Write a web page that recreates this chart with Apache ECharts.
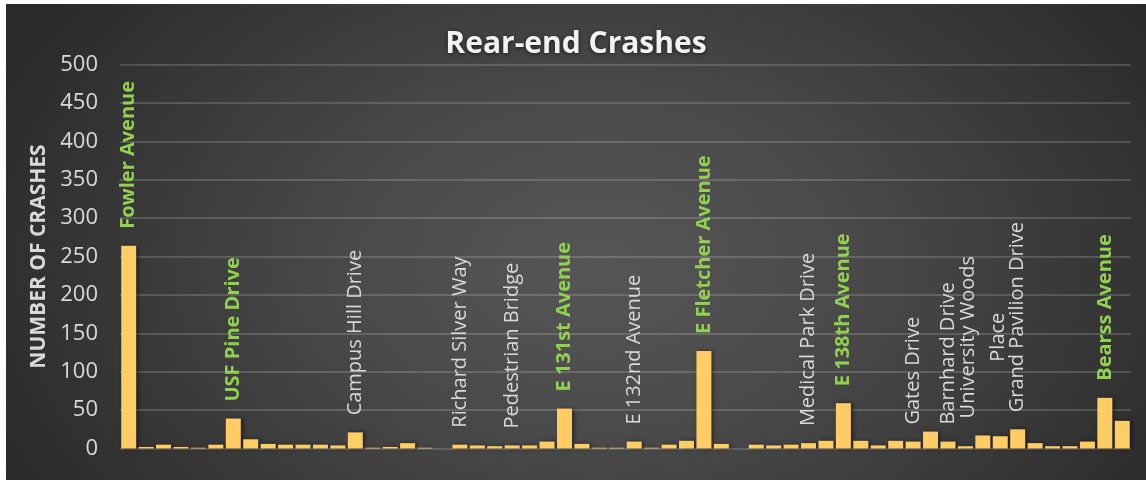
<!DOCTYPE html>
<html>
<head>
<meta charset="utf-8">
<script src="https://cdn.jsdelivr.net/npm/echarts@6/dist/echarts.min.js"></script>
<style>
  html, body { margin: 0; padding: 0; background: #fff; }
  #chart {
    position: absolute; left: 6px; top: 4px; width: 1140px; height: 476px;
    background: radial-gradient(ellipse 58% 95% at 52% 55%, #565656 0%, #4b4b4b 35%, #2a2a2a 100%);
  }
</style>
</head>
<body>
<div id="chart"></div>
<script>
'use strict'
// road segments, left to right; only the labelled ones carry a name
const roads = [
  'Fowler Avenue', '', '', '', '', '', 'USF Pine Drive', '', '', '',
  '', '', '', 'Campus Hill Drive', '', '', '', '', '', 'Richard Silver Way',
  '', '', 'Pedestrian Bridge', '', '', 'E 131st Avenue', '', '', '', 'E 132nd Avenue',
  '', '', '', 'E Fletcher Avenue', '', '', '', '', '', 'Medical Park Drive',
  '', 'E 138th Avenue', '', '', '', 'Gates Drive', '', 'Barnhard Drive', '', 'University Woods\nPlace',
  '', 'Grand Pavilion Drive', '', '', '', '', 'Bearss Avenue', ''
];
const crashes = [
  264, 2, 5, 2, 1, 5, 39, 12, 6, 5,
  5, 5, 4, 21, 1, 2, 7, 1, 0, 5,
  4, 3, 4, 4, 9, 52, 6, 1, 1, 9,
  1, 5, 10, 127, 6, 0, 5, 4, 5, 7,
  10, 59, 10, 4, 10, 9, 22, 9, 3, 17,
  16, 25, 7, 3, 3, 9, 66, 36
];
// highlighted (green, bold) corridors
const majorRoads = ['Fowler Avenue', 'USF Pine Drive', 'E 131st Avenue', 'E Fletcher Avenue', 'E 138th Avenue', 'Bearss Avenue'];

const FONT = 'Open Sans';

let chart = echarts.init(document.getElementById('chart'));

let data = crashes.map((v, i) => {
  let name = roads[i];
  if (!name) return {value: v, label: {show: false}};
  let major = majorRoads.indexOf(name) > -1;
  let color = major ? '#92d050' : '#d9d9d9';
  let weight = major ? 'bold' : 'normal';
  return {
    value: v,
    label: {
      show: true,
      color: color,
      fontWeight: weight,
      formatter: name.indexOf('\n') > -1
        ? name.split('\n').map(s => '{c|' + s + '}').join('\n')
        : name,
      rich: {
        c: {align: 'center', color: color, fontWeight: weight, fontFamily: FONT, fontSize: 20, lineHeight: 30}
      }
    }
  };
});

let option = {
  title: {
    text: 'Rear-end Crashes',
    left: 'center',
    top: 20,
    textStyle: {
      color: '#f2f2f2',
      fontFamily: FONT,
      fontSize: 30,
      fontWeight: 'bold',
      textShadowColor: 'rgba(0, 0, 0, .6)',
      textShadowBlur: 4,
      textShadowOffsetY: 1
    }
  },
  grid: {
    left: 114,
    right: 15,
    top: 60.5,
    bottom: 31.5
  },
  xAxis: {
    type: 'category',
    data: roads,
    axisLine: {show: false},
    axisTick: {show: false},
    axisLabel: {show: false}
  },
  yAxis: {
    type: 'value',
    min: 0,
    max: 500,
    interval: 50,
    name: 'NUMBER OF CRASHES',
    nameLocation: 'middle',
    nameGap: 70,
    nameTextStyle: {
      color: '#d9d9d9',
      fontFamily: FONT,
      fontSize: 21,
      fontWeight: 'bold'
    },
    axisLine: {show: false},
    axisTick: {show: false},
    axisLabel: {
      color: '#d9d9d9',
      fontFamily: FONT,
      fontSize: 22,
      margin: 22
    },
    splitLine: {
      lineStyle: {
        color: 'rgba(255, 255, 255, .16)',
        width: 2
      }
    }
  },
  series: [{
    type: 'bar',
    data: data,
    barCategoryGap: '14%',
    itemStyle: {
      color: '#ffcc66',
      shadowColor: 'rgba(0, 0, 0, .5)',
      shadowBlur: 4,
      shadowOffsetX: 2
    },
    label: {
      position: 'top',
      rotate: 90,
      align: 'left',
      verticalAlign: 'middle',
      distance: 17,
      fontFamily: FONT,
      fontSize: 20
    }
  }]
};

chart.setOption(option);
</script>
</body>
</html>
